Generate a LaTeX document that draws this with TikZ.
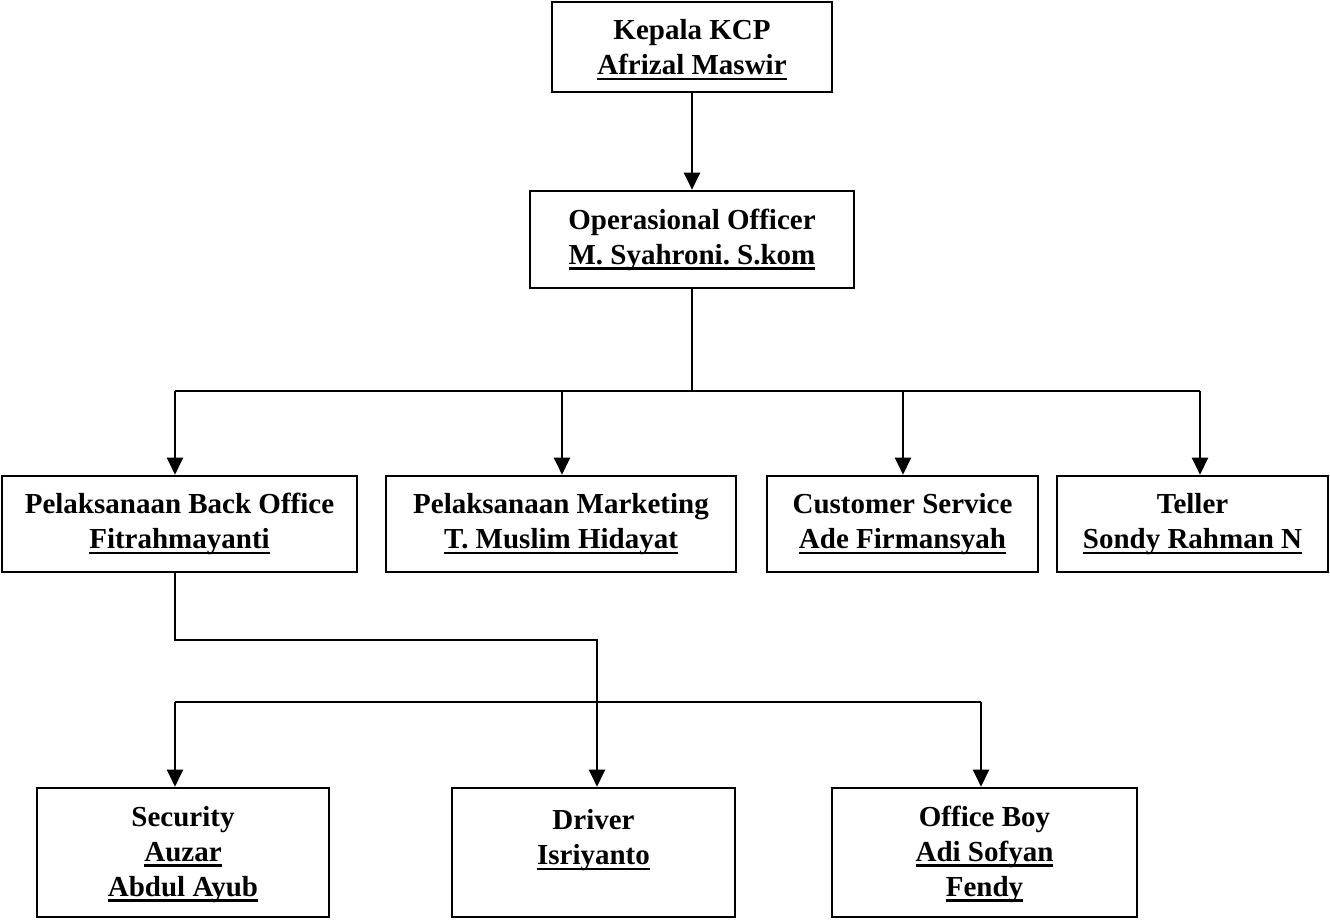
\documentclass[tikz,border=0pt]{standalone}
\usepackage{fontspec}
\setmainfont{Liberation Serif}
\usetikzlibrary{arrows.meta}
\frenchspacing
\newcommand{\ulname}[1]{\setbox0\hbox{#1}\rlap{\rule[-5.5pt]{\wd0}{2.4pt}}\box0}
\begin{document}
\begin{tikzpicture}[x=1pt,y=-1pt,
  box/.style={draw,line width=2.6pt,align=center,inner sep=0pt,
    font=\bfseries\fontsize{29pt}{35pt}\selectfont},
  conn/.style={line width=2.2pt},
  thinconn/.style={line width=1.3pt},
  arr/.style={line width=2.2pt,-{Triangle[width=16pt,length=17pt]}}]
\useasboundingbox (0,0) rectangle (1330,920);

% level 0 and 1
\node[box,minimum width=280pt,minimum height=90pt] (kcp) at (692,47)
  {\rule{0pt}{26pt}Kepala KCP\\\ulname{Afrizal Maswir}};
\node[box,minimum width=324pt,minimum height=97pt] (op) at (692,239.5)
  {Operasional Officer\\\ulname{M. Syahroni. S.kom}};

% level 2
\node[box,minimum width=355pt,minimum height=96pt] (bo) at (179.5,524)
  {Pelaksanaan Back Office\\\ulname{Fitrahmayanti}};
\node[box,minimum width=350pt,minimum height=96pt] (mk) at (561,524)
  {Pelaksanaan Marketing\\\ulname{T. Muslim Hidayat}};
\node[box,minimum width=271pt,minimum height=96pt] (cs) at (902.5,524)
  {Customer Service\\\ulname{Ade Firmansyah}};
\node[box,minimum width=271pt,minimum height=96pt] (tl) at (1192.5,524)
  {Teller\\\ulname{Sondy Rahman N}};

% level 3
\node[box,minimum width=292pt,minimum height=129pt] (sec) at (183,852.5)
  {\rule{0pt}{24pt}Security\\\ulname{Auzar}\\\ulname{Abdul Ayub}};
\node[box,minimum width=283pt,minimum height=129pt] (drv) at (593.5,852.5)
  {\rule{0pt}{24pt}Driver\\\ulname{Isriyanto}\\\mbox{}};
\node[box,minimum width=305pt,minimum height=129pt] (ob) at (984.5,852.5)
  {\rule{0pt}{24pt}Office Boy\\\ulname{Adi Sofyan}\\\ulname{Fendy}};

% bus coordinates
\coordinate (b1) at (175,391);
\coordinate (b2) at (562,391);
\coordinate (b3) at (903,391);
\coordinate (b4) at (1200,391);
\coordinate (k1) at (175,640);
\coordinate (k2) at (597,640);
\coordinate (h1) at (175,702);
\coordinate (h2) at (597,702);
\coordinate (h3) at (981,702);

% connectors
\draw[arr] (kcp.south) -- (op.north);
\draw[conn] (op.south) -- (op.south |- b1);
\draw[conn] (b1) -- (b4);
\draw[arr] (b1) -- (b1 |- bo.north);
\draw[arr] (b2) -- (b2 |- mk.north);
\draw[arr] (b3) -- (b3 |- cs.north);
\draw[arr] (b4) -- (b4 |- tl.north);

\draw[thinconn] (bo.south -| k1) -- (k1) -- (k2) -- (h2);
\draw[conn] (h1) -- (h3);
\draw[arr] (h1) -- (h1 |- sec.north);
\draw[arr] (h2) -- (h2 |- drv.north);
\draw[arr] (h3) -- (h3 |- ob.north);
\end{tikzpicture}
\end{document}
